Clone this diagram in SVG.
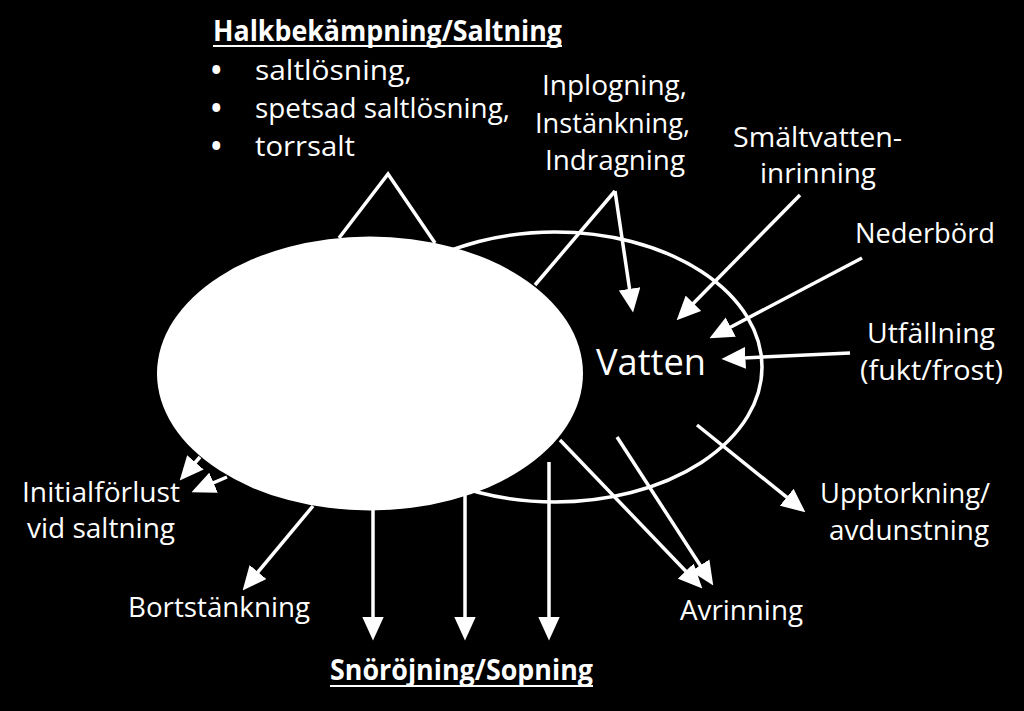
<svg xmlns="http://www.w3.org/2000/svg" width="1024" height="711" viewBox="0 0 1024 711">
<defs>
<marker id="ah" markerUnits="userSpaceOnUse" markerWidth="24" markerHeight="22" refX="16" refY="10" orient="auto" viewBox="0 0 22 20">
<path d="M0,0 L22,10 L0,20 z" fill="#fff"/>
</marker>
<style>
.t{font-family:"Open Sans","Noto Sans","Liberation Sans",sans-serif;font-size:28px;fill:#fff}
.b{font-weight:bold}
.big{font-size:37px}
.bul{font-weight:bold}
.ln{stroke:#fff;stroke-width:3.5;fill:none}
.ar{stroke:#fff;stroke-width:3.5;fill:none;marker-end:url(#ah)}
</style>
</defs>
<rect width="1024" height="711" fill="#000"/>
<g id="water">
<ellipse cx="555" cy="367" rx="207" ry="135" fill="none" stroke="#fff" stroke-width="3.5"/>
<text class="t big" x="596" y="375" textLength="110" lengthAdjust="spacingAndGlyphs">Vatten</text>
</g>
<g id="salt">
<ellipse cx="370" cy="373.5" rx="213" ry="137" fill="#fff"/>
</g>
<g id="connectors">
<polyline class="ln" points="339,238 388,174 435,243"/>
<line class="ln" x1="535" y1="285" x2="615" y2="191"/>
<line class="ar" x1="615" y1="191" x2="632.1" y2="306.1"/>
<line class="ar" x1="800" y1="195" x2="681.2" y2="315.7"/>
<line class="ar" x1="862" y1="258" x2="715.3" y2="335.2"/>
<line class="ar" x1="850" y1="353" x2="728" y2="358.7"/>
<line class="ar" x1="373" y1="505" x2="373" y2="634"/>
<line class="ar" x1="465" y1="490" x2="465" y2="634"/>
<line class="ar" x1="549" y1="462" x2="549" y2="634"/>
<line class="ar" x1="560" y1="440" x2="697.8" y2="583.7"/>
<line class="ar" x1="617" y1="437" x2="709.7" y2="580"/>
<line class="ar" x1="697" y1="425" x2="800.3" y2="508.2"/>
<line class="ar" x1="200" y1="457" x2="184" y2="475.5"/>
<line class="ar" x1="227" y1="477" x2="197.5" y2="489.6"/>
<line class="ar" x1="313" y1="506" x2="246.8" y2="585.4"/>
</g>
<g id="halk">
<text class="t b" x="213" y="41" textLength="349" lengthAdjust="spacingAndGlyphs">Halkbekämpning/Saltning</text>
<line x1="213" y1="46" x2="562" y2="46" stroke="#fff" stroke-width="2"/>
<text class="t" y="80"><tspan class="bul" x="211">•</tspan><tspan x="255" textLength="157" lengthAdjust="spacingAndGlyphs">saltlösning,</tspan></text>
<text class="t" y="118"><tspan class="bul" x="211">•</tspan><tspan x="255" textLength="255" lengthAdjust="spacingAndGlyphs">spetsad saltlösning,</tspan></text>
<text class="t" y="156"><tspan class="bul" x="211">•</tspan><tspan x="255" textLength="100" lengthAdjust="spacingAndGlyphs">torrsalt</tspan></text>
</g>
<g id="inplogning">
<text class="t" x="542" y="95" textLength="145" lengthAdjust="spacingAndGlyphs">Inplogning,</text>
<text class="t" x="535" y="133" textLength="155" lengthAdjust="spacingAndGlyphs">Instänkning,</text>
<text class="t" x="545" y="170" textLength="140" lengthAdjust="spacingAndGlyphs">Indragning</text>
</g>
<g id="smaltvatten">
<text class="t" x="733" y="147" textLength="169" lengthAdjust="spacingAndGlyphs">Smältvatten-</text>
<text class="t" x="760" y="183" textLength="116" lengthAdjust="spacingAndGlyphs">inrinning</text>
</g>
<g id="nederbord">
<text class="t" x="855" y="243" textLength="140" lengthAdjust="spacingAndGlyphs">Nederbörd</text>
</g>
<g id="utfallning">
<text class="t" x="867" y="343" textLength="128" lengthAdjust="spacingAndGlyphs">Utfällning</text>
<text class="t" x="860" y="380" textLength="143" lengthAdjust="spacingAndGlyphs">(fukt/frost)</text>
</g>
<g id="upptorkning">
<text class="t" x="820" y="503" textLength="170" lengthAdjust="spacingAndGlyphs">Upptorkning/</text>
<text class="t" x="829" y="540" textLength="160" lengthAdjust="spacingAndGlyphs">avdunstning</text>
</g>
<g id="avrinning">
<text class="t" x="680" y="620" textLength="123" lengthAdjust="spacingAndGlyphs">Avrinning</text>
</g>
<g id="initialforlust">
<text class="t" x="22" y="502" textLength="158" lengthAdjust="spacingAndGlyphs">Initialförlust</text>
<text class="t" x="27" y="538" textLength="148" lengthAdjust="spacingAndGlyphs">vid saltning</text>
</g>
<g id="bortstankning">
<text class="t" x="128" y="617" textLength="182" lengthAdjust="spacingAndGlyphs">Bortstänkning</text>
</g>
<g id="snorojning">
<text class="t b" x="330" y="680" textLength="263" lengthAdjust="spacingAndGlyphs">Snöröjning/Sopning</text>
<line x1="330" y1="686" x2="593" y2="686" stroke="#fff" stroke-width="2"/>
</g>
</svg>
